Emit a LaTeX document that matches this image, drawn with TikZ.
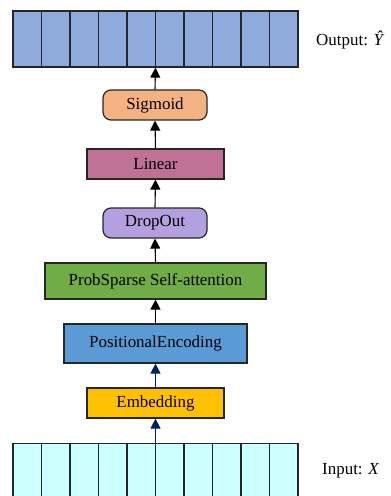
\documentclass[tikz,border=0pt]{standalone}
\usepackage{fontspec}
\setmainfont{Liberation Serif}
\usetikzlibrary{arrows.meta}
\definecolor{outc}{RGB}{143,170,220}
\definecolor{inc}{RGB}{204,255,255}
\definecolor{sigc}{RGB}{244,177,131}
\definecolor{linc}{RGB}{192,114,150}
\definecolor{dropc}{RGB}{180,160,222}
\definecolor{probc}{RGB}{112,173,71}
\definecolor{posc}{RGB}{91,155,213}
\definecolor{embc}{RGB}{255,192,0}
\definecolor{navy}{RGB}{0,32,96}
\tikzset{
  blk/.style={draw=black!85, line width=1.2pt, inner sep=0pt, font=\fontsize{17}{20}\selectfont},
  rbox/.style={blk, rounded corners=8bp},
  arr/.style={line width=1.1pt, -{Triangle[width=10bp,length=10bp]}},
  arrb/.style={arr, draw=navy, fill=navy},
  lbl/.style={anchor=west, inner sep=0pt, font=\fontsize{17}{20}\selectfont},
}
\begin{document}
\begin{tikzpicture}[x=1bp,y=-1bp]
\useasboundingbox (0,0) rectangle (390,496);
\clip (0,0) rectangle (390,496);
% output array
\node[blk, fill=outc, minimum width=285bp, minimum height=56bp] (out) at (155.5,39) {};
\foreach \i in {1,...,9} \draw[line width=1.2pt, black!85] (13+28.5*\i,11) -- (13+28.5*\i,67);
% input array
\node[blk, fill=inc, minimum width=285bp, minimum height=80bp, anchor=north] (in) at (155.5,443) {};
\foreach \i in {1,...,9} \draw[line width=1.2pt, black!85] (13+28.5*\i,443) -- (13+28.5*\i,523);
% blocks
\node[rbox, fill=sigc, minimum width=104bp, minimum height=30bp] (sig) at (155,105) {Sigmoid};
\node[blk, fill=linc, minimum width=137bp, minimum height=30bp] (lin) at (155.5,164) {Linear};
\node[rbox, fill=dropc, minimum width=104bp, minimum height=30bp] (drop) at (155,223) {DropOut};
\node[blk, fill=probc, minimum width=221bp, minimum height=36bp] (prob) at (155.5,281) {ProbSparse Self-attention};
\node[blk, fill=posc, minimum width=183bp, minimum height=39bp] (pos) at (155.5,343.5) {PositionalEncoding};
\node[blk, fill=embc, minimum width=137bp, minimum height=30bp] (emb) at (155.5,403) {Embedding};
% labels
\node[lbl] (olbl) at (316,40) {Output: \textit{\^{Y}}};
\node[lbl] (ilbl) at (322,471) {Input: \textit{X}};
% arrows
\draw[arrb] (in.north) -- (emb.south);
\draw[arrb] (emb.north) -- (pos.south);
\draw[arr] (pos.north) -- (prob.south);
\draw[arr] (prob.north) -- (drop.south);
\draw[arr] (drop.north) -- (lin.south);
\draw[arr] (lin.north) -- (sig.south);
\draw[arr] (sig.north) -- (out.south);
\end{tikzpicture}
\end{document}
